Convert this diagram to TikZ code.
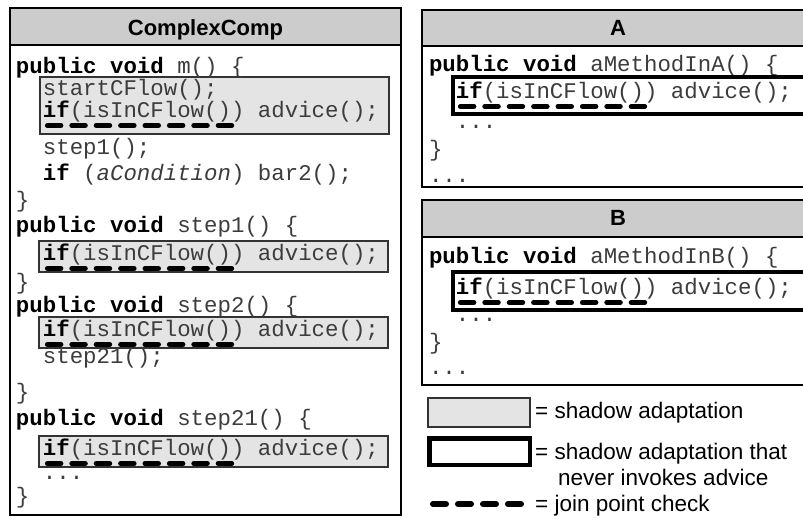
\documentclass[tikz,border=0pt]{standalone}
\usepackage{fontspec}
\setmainfont{Liberation Sans}
\setmonofont{Liberation Mono}
\usetikzlibrary{calc}

\definecolor{hdrgray}{RGB}{204,204,204}
\definecolor{shadowgray}{RGB}{228,228,228}
\definecolor{codeink}{RGB}{60,60,60}

\newcommand{\kw}[1]{\textcolor{black}{\textbf{#1}}}

\tikzset{
  code/.style={font=\ttfamily\fontsize{22.4pt}{24pt}\selectfont, anchor=base west,
               inner sep=0pt, outer sep=0pt, text=codeink},
  classname/.style={font=\bfseries\fontsize{22pt}{24pt}\selectfont, anchor=base, inner sep=0pt},
  legendtext/.style={font=\fontsize{22.5pt}{24pt}\selectfont, anchor=base west, inner sep=0pt},
  panel/.style={draw=black, line width=1.3pt},
  header/.style={draw=black, line width=1.3pt, fill=hdrgray},
  shadowbox/.style={draw=black!80, line width=1.5pt, fill=shadowgray},
  noadvicebox/.style={draw=black, line width=4.5pt, fill=white},
  jpcheck/.style={line width=5pt, line cap=round, dash pattern=on 13.5pt off 10.9pt},
  jplegend/.style={line width=6pt, line cap=round, dash pattern=on 13pt off 12pt},
}

\begin{document}
\begin{tikzpicture}[x=1pt, y=-1pt]
\useasboundingbox (0,0) rectangle (803,517);

% ---------------- class ComplexComp ----------------
\draw[panel] (10,45) rectangle (401,515);
\draw[header] (10,8) rectangle (401,45);
\node[classname] (cctitle) at (205.5,35) {ComplexComp};

\draw[shadowbox] (40,77) rectangle (389,134);
\draw[shadowbox] (39,241) rectangle (388,272);
\draw[shadowbox] (39,317) rectangle (388,348);
\draw[shadowbox] (39,436) rectangle (388,467);

\node[code] (m1)  at (16,73.5)   {\kw{public void} m() \{};
\node[code] (m2)  at (42.9,95.5) {startCFlow();};
\node[code] (m3)  at (42.9,117.5){\kw{if}(isInCFlow()) advice();};
\node[code] (m4)  at (42.9,154.5){step1();};
\node[code] (m5)  at (42.9,180.5){\kw{if} (\textit{aCondition}) bar2();};
\node[code] (m6)  at (16,207.5)  {\}};
\node[code] (s1a) at (16,232.5)  {\kw{public void} step1() \{};
\node[code] (s1b) at (42.9,260.5){\kw{if}(isInCFlow()) advice();};
\node[code] (s1c) at (16,289.5)  {\}};
\node[code] (s2a) at (16,312.5)  {\kw{public void} step2() \{};
\node[code] (s2b) at (42.9,336.5){\kw{if}(isInCFlow()) advice();};
\node[code] (s2c) at (42.9,363.5){step21();};
\node[code] (s2d) at (16,399.5)  {\}};
\node[code] (s3a) at (16,425.5)  {\kw{public void} step21() \{};
\node[code] (s3b) at (42.9,455.5){\kw{if}(isInCFlow()) advice();};
\node[code] (s3c) at (42.9,479)  {...};
\node[code] (s3d) at (16,503.5)  {\}};

\foreach \n in {m3,s1b,s2b,s3b}
  \draw[jpcheck] ($(\n.base west)+(4.5,8)$) -- ++(184.3,0);

% ---------------- class A ----------------
\draw[panel] (422,46) rectangle (814,187);
\draw[header] (422,10) rectangle (814,46);
\node[classname] (atitle) at (618,35) {A};

\node[code] (a1) at (429,71.5) {\kw{public void} aMethodInA() \{};
\draw[noadvicebox] (453,77) rectangle (840,114);
\node[code] (a2) at (455.9,98.5) {\kw{if}(isInCFlow()) advice();};
\node[code] (a3) at (455.9,128)  {...};
\node[code] (a4) at (429,156)    {\}};
\node[code] (a5) at (429,182)    {...};
\draw[jpcheck] ($(a2.base west)+(4.5,8)$) -- ++(184.3,0);

% ---------------- class B ----------------
\draw[panel] (422,237) rectangle (814,385);
\draw[header] (422,200) rectangle (814,237);
\node[classname] (btitle) at (618,225) {B};

\node[code] (b1) at (429,263.5) {\kw{public void} aMethodInB() \{};
\draw[noadvicebox] (453,272) rectangle (840,310);
\node[code] (b2) at (455.9,294.5) {\kw{if}(isInCFlow()) advice();};
\node[code] (b3) at (455.9,321)   {...};
\node[code] (b4) at (429,349)     {\}};
\node[code] (b5) at (429,374)     {...};
\draw[jpcheck] ($(b2.base west)+(4.5,8)$) -- ++(184.3,0);

% ---------------- legend ----------------
\draw[shadowbox] (428,398) rectangle (530,427);
\node[legendtext] (lg1) at (535,418) {= shadow adaptation};

\draw[noadvicebox] (429.5,438.5) rectangle (530,465);
\node[legendtext] (lg2) at (535,459) {= shadow adaptation that};
\node[legendtext] (lg3) at (558,485) {never invokes advice};

\coordinate (jpstart) at (433,504);
\coordinate (jpend) at (521,504);
\draw[jplegend] (jpstart) -- (jpend);
\node[legendtext] (lg4) at (535,511) {= join point check};
\end{tikzpicture}
\end{document}
